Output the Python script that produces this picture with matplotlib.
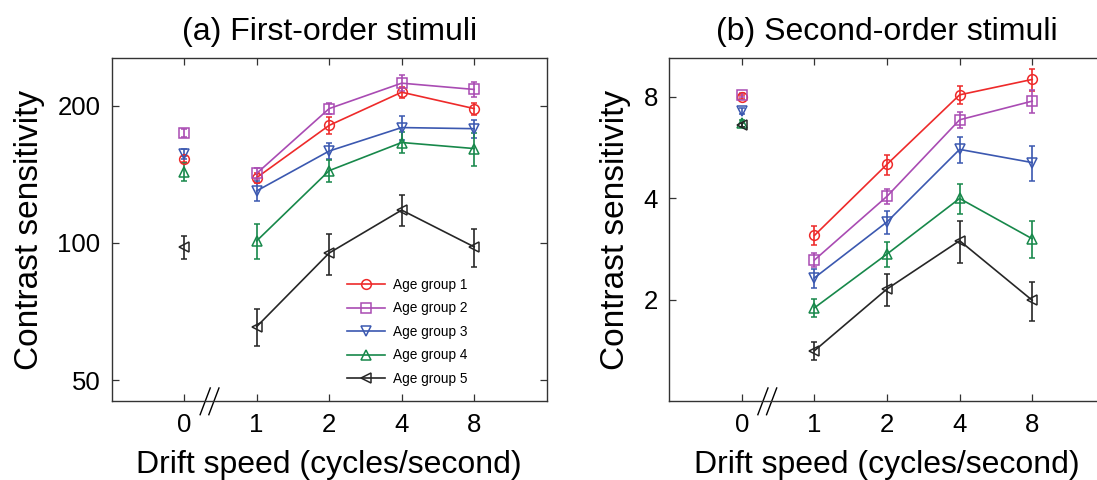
import numpy as np
import matplotlib
matplotlib.use("Agg")
import matplotlib.pyplot as plt
import matplotlib.transforms as mtransforms
from matplotlib.lines import Line2D

plt.rcParams["font.family"] = ["Liberation Sans", "DejaVu Sans"]

speeds = ["0", "1", "2", "4", "8"]
groups = ["Age group 1", "Age group 2", "Age group 3", "Age group 4", "Age group 5"]
colors = ["#ee2a2a", "#a94bb3", "#3b58b0", "#17884a", "#262626"]
markers = ["o", "s", "v", "^", "<"]

# (a) first-order stimuli, contrast sensitivity
first_vals = [
    [153, 139, 181, 214, 197],
    [174, 142, 197, 224, 217],
    [157, 130, 159, 179, 178],
    [143, 101, 144, 166, 161],
    [98, 65.5, 95, 118, 98],
]
first_err = [
    [2.3, 3.6, 7.5, 5.8, 6.1],
    [3.6, 3.6, 5.7, 9.2, 8.4],
    [4.0, 6.7, 6.6, 11.2, 7.8],
    [6.6, 9.0, 8.2, 8.6, 13.5],
    [5.6, 6.0, 9.8, 9.1, 9.3],
]

# (b) second-order stimuli
second_vals = [
    [7.97, 3.10, 5.04, 8.10, 9.00],
    [8.10, 2.62, 4.05, 6.83, 7.76],
    [7.25, 2.32, 3.40, 5.58, 5.10],
    [6.66, 1.89, 2.73, 3.99, 3.03],
    [6.59, 1.41, 2.15, 2.99, 1.99],
]
second_err = [
    [0.11, 0.20, 0.34, 0.51, 0.68],
    [0.11, 0.12, 0.21, 0.37, 0.59],
    [0.15, 0.15, 0.26, 0.48, 0.61],
    [0.14, 0.12, 0.23, 0.40, 0.38],
    [0.09, 0.09, 0.23, 0.42, 0.26],
]

fig = plt.figure(figsize=(10.97, 4.8), dpi=100)
ax_a = fig.add_axes([0.1018, 0.1646, 0.3965, 0.714])
ax_b = fig.add_axes([0.6101, 0.1646, 0.397, 0.714])

xpos = np.arange(len(speeds))


def draw_panel(ax, vals, errs, title, ylim, yticks, legend=False):
    for i, g in enumerate(groups):
        v = np.array(vals[i])
        e = np.array(errs[i])
        c = colors[i]
        # zero speed point stands alone
        ax.errorbar(xpos[:1], v[:1], yerr=e[:1], color=c, marker=markers[i],
                    mfc="none", ms=7, mew=1.1, lw=1.2, capsize=2, elinewidth=1.2,
                    ls="none")
        ax.errorbar(xpos[1:], v[1:], yerr=e[1:], color=c, marker=markers[i],
                    mfc="none", ms=7, mew=1.1, lw=1.2, capsize=2, elinewidth=1.2)
    ax.set_yscale("log")
    ax.set_ylim(*ylim)
    ax.set_xlim(-1, 5)
    ax.set_yticks(yticks)
    ax.set_yticklabels([str(t) for t in yticks])
    ax.yaxis.set_minor_locator(matplotlib.ticker.NullLocator())
    ax.set_xticks(xpos)
    ax.set_xticklabels(speeds)
    ax.tick_params(direction="in", length=5, width=0.9, labelsize=18.5,
                   top=True, right=True, pad=8, colors="#333333", labelcolor="black")
    ax.tick_params(axis="x", pad=9)
    for sp in ax.spines.values():
        sp.set_color("#333333")
        sp.set_linewidth(1.0)
    ax.set_title(title, fontsize=23, pad=13)
    ax.set_ylabel("Contrast sensitivity", fontsize=24, labelpad=9)
    ax.set_xlabel("Drift speed (cycles/second)", fontsize=23, labelpad=9)

    # axis break marks
    trans = mtransforms.blended_transform_factory(ax.transData, ax.transAxes)
    for dx in (0.29, 0.41):
        ax.plot([dx - 0.07, dx + 0.07], [-0.04, 0.038], color="black", lw=1.0,
                transform=trans, clip_on=False)

    if legend:
        handles = [Line2D([], [], color=colors[i], marker=markers[i], mfc="none",
                          ms=7, mew=1.1, lw=1.2) for i in range(len(groups))]
        ax.legend(handles, groups, loc="upper left", bbox_to_anchor=(0.528, 0.375),
                  frameon=False, fontsize=9.8, handlelength=2.8, labelspacing=0.7,
                  handletextpad=0.6, borderaxespad=0)


draw_panel(ax_a, first_vals, first_err, "(a) First-order stimuli",
           (45, 254), [50, 100, 200], legend=True)
draw_panel(ax_b, second_vals, second_err, "(b) Second-order stimuli",
           (1.0, 10.4), [2, 4, 8])

fig.savefig("out.png", dpi=100)
